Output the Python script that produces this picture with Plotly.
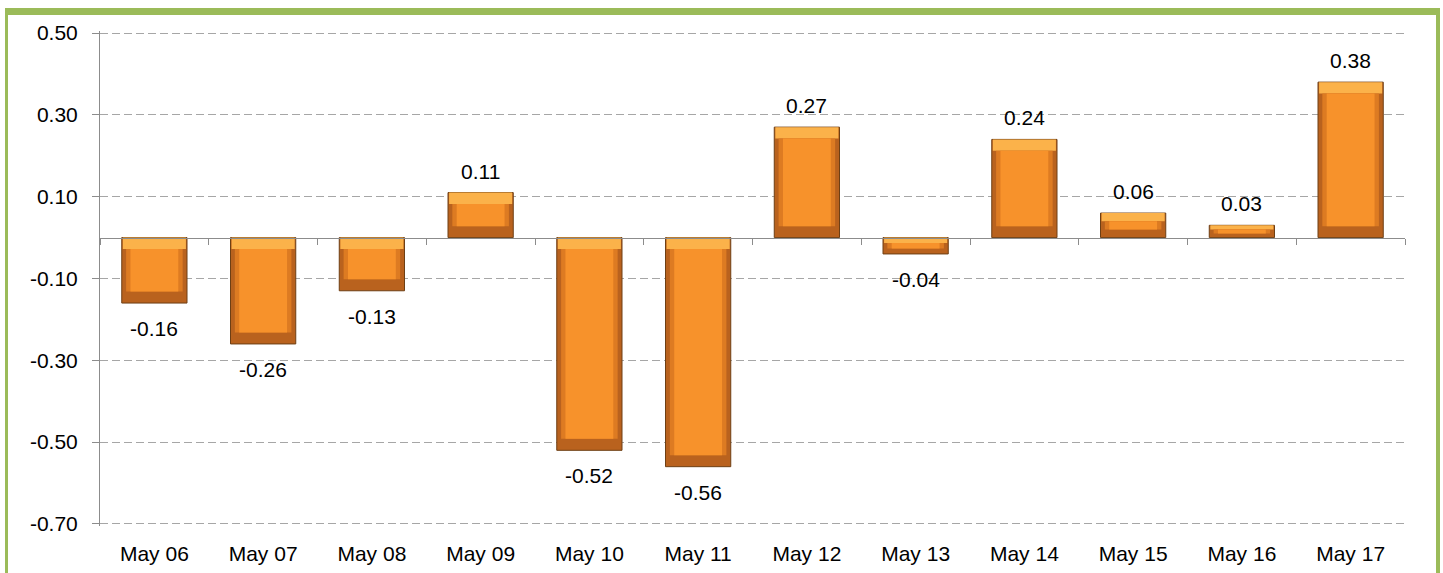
import plotly.graph_objects as go

categories = ["May 06", "May 07", "May 08", "May 09", "May 10", "May 11",
              "May 12", "May 13", "May 14", "May 15", "May 16", "May 17"]
values = [-0.16, -0.26, -0.13, 0.11, -0.52, -0.56, 0.27, -0.04, 0.24, 0.06, 0.03, 0.38]
labels = ["-0.16", "-0.26", "-0.13", "0.11", "-0.52", "-0.56", "0.27", "-0.04", "0.24", "0.06", "0.03", "0.38"]
ytick_vals = [0.5, 0.3, 0.1, -0.1, -0.3, -0.5, -0.7]
ytick_text = ["0.50", "0.30", "0.10", "-0.10", "-0.30", "-0.50", "-0.70"]

FONT = "Liberation Sans, Arial, sans-serif"
FS = 21
GREEN = "#9BBB59"

tops = [max(v, 0) for v in values]
bottoms = [min(v, 0) for v in values]
inset = [min(0.028, abs(v) / 3) for v in values]

fig = go.Figure()

# outer (dark bevel) bar
fig.add_trace(go.Bar(
    x=categories, y=values, width=0.6,
    marker=dict(color="#B9621E", line=dict(color="#6E3F14", width=1)),
    hoverinfo="skip", showlegend=False,
))
# light top bevel strip
fig.add_trace(go.Bar(
    x=categories, y=[-i for i in inset], base=tops, width=0.58,
    marker=dict(color="#FBB24A", line=dict(width=0)),
    hoverinfo="skip", showlegend=False,
))
# side bevel tone
fig.add_trace(go.Bar(
    x=categories, y=[t - b - 2 * i for t, b, i in zip(tops, bottoms, inset)],
    base=[b + i for b, i in zip(bottoms, inset)], width=0.52,
    marker=dict(color="#DD7B22", line=dict(width=0)),
    hoverinfo="skip", showlegend=False,
))
# inner face
fig.add_trace(go.Bar(
    x=categories, y=[t - b - 2 * i for t, b, i in zip(tops, bottoms, inset)],
    base=[b + i for b, i in zip(bottoms, inset)], width=0.44,
    marker=dict(color="#F7922B", line=dict(width=0)),
    hoverinfo="skip", showlegend=False,
))

# invisible trace for the zero-line axis with boundary ticks
fig.add_trace(go.Scatter(x=categories, y=[0] * len(categories), xaxis="x2",
                         mode="markers", marker=dict(opacity=0),
                         hoverinfo="skip", showlegend=False))

annotations = []
for c, v, t in zip(categories, values, labels):
    annotations.append(dict(
        x=c, y=v, xref="x", yref="y", text=t, showarrow=False,
        yanchor="bottom" if v > 0 else "top",
        yshift=8 if v > 0 else -12,
        font=dict(family=FONT, size=FS, color="#000000"),
    ))

Y0, Y1 = -0.705, 0.505
fig.update_layout(
    width=1443, height=573,
    margin=dict(l=100, r=38, t=31, b=47),
    paper_bgcolor="white", plot_bgcolor="white",
    barmode="overlay",
    font=dict(family=FONT, size=FS, color="#000000"),
    xaxis=dict(
        type="category", categoryarray=categories, range=[-0.5, 11.5],
        showgrid=False, showline=False, zeroline=False, ticks="",
        ticklabelstandoff=13, tickfont=dict(size=FS), automargin=False,
    ),
    xaxis2=dict(
        type="category", categoryarray=categories, range=[-0.5, 11.5],
        overlaying="x", anchor="free", position=(0 - Y0) / (Y1 - Y0),
        showline=True, linecolor="#8C8C8C", linewidth=1,
        ticks="outside", ticklen=6, tickcolor="#8C8C8C", tickson="boundaries",
        showticklabels=False, showgrid=False, zeroline=False, automargin=False,
    ),
    yaxis=dict(
        range=[Y0, Y1], tickvals=ytick_vals, ticktext=ytick_text,
        showgrid=True, gridcolor="#A6A6A6", griddash="8px,4px", gridwidth=1,
        showline=True, linecolor="#8C8C8C", linewidth=1,
        ticks="outside", ticklen=7, tickcolor="#8C8C8C",
        zeroline=False, tickfont=dict(size=FS), ticklabelstandoff=10,
        automargin=False,
    ),
    annotations=annotations,
)

# green frame (pixel positions converted to paper coordinates)
PL, PT, PW, PH = 100, 31, 1443 - 100 - 38, 573 - 31 - 47
def px(x):
    return (x - PL) / PW
def py(y):
    return (PT + PH - y) / PH
for x0, x1, y0, y1 in [(5, 1440, 8, 15), (5, 8, 8, 600), (1436, 1440, 8, 600)]:
    fig.add_shape(type="rect", xref="paper", yref="paper",
                  x0=px(x0), x1=px(x1), y0=py(y1), y1=py(y0),
                  fillcolor=GREEN, line=dict(width=0), layer="above")

fig.write_html("out.html", config={"displayModeBar": False},
               post_script="document.body.style.margin='0';document.body.style.overflow='hidden';")
